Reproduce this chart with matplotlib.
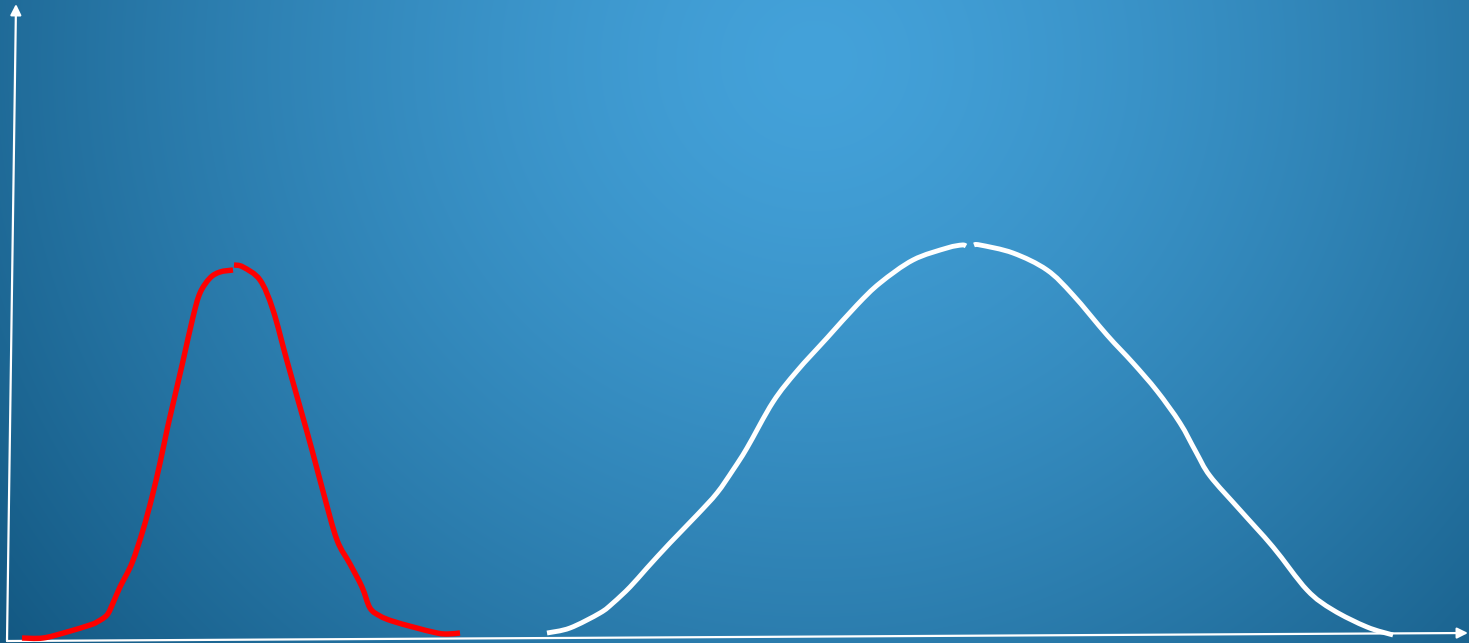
import matplotlib
matplotlib.use("Agg")
import matplotlib.pyplot as plt
import numpy as np
from matplotlib.colors import to_rgb
from matplotlib.path import Path
from matplotlib.patches import PathPatch

# Hand-drawn curves in pixel coordinates (x right, y down)
red_left_x = [22, 43, 67, 90, 97, 107, 113, 120, 132, 143, 152, 160, 167, 173, 183, 193, 200, 210, 220, 233]
red_left_y = [638, 638, 632, 625, 622, 615, 603, 587, 563, 530, 497, 463, 430, 404, 361, 317, 293, 278, 272, 270]
red_right_x = [234, 243, 260, 273, 287, 300, 312, 324, 337, 350, 362, 370, 380, 392, 413, 437, 448, 460]
red_right_y = [265, 267, 280, 310, 361, 407, 450, 495, 540, 564, 587, 608, 616, 621, 627, 633, 634, 633]

white_left_x = [547, 570, 600, 613, 630, 647, 670, 697, 717, 733, 747, 773, 797, 827, 857, 880, 913, 947, 962, 966]
white_left_y = [633, 628, 613, 603, 587, 568, 543, 515, 493, 470, 448, 402, 371, 338, 305, 283, 260, 248, 245, 246]
white_right_x = [974, 980, 1013, 1047, 1073, 1107, 1133, 1157, 1180, 1196, 1210, 1240, 1273, 1307, 1333, 1367, 1393]
white_right_y = [245, 245, 253, 270, 295, 335, 363, 391, 423, 452, 476, 510, 547, 590, 610, 627, 635]

W, H = 1469, 643


def smooth_path(xs, ys):
    # Catmull-Rom through the read points, as cubic Bezier segments
    p = np.column_stack([xs, ys]).astype(float)
    verts = [p[0]]
    codes = [Path.MOVETO]
    for i in range(len(p) - 1):
        p0 = p[i - 1] if i > 0 else p[i]
        p3 = p[i + 2] if i + 2 < len(p) else p[i + 1]
        c1 = p[i] + (p[i + 1] - p0) / 6
        c2 = p[i + 1] - (p3 - p[i]) / 6
        verts += [c1, c2, p[i + 1]]
        codes += [Path.CURVE4] * 3
    return Path(verts, codes)


fig = plt.figure(figsize=(W / 100, H / 100), dpi=100)
ax = fig.add_axes([0, 0, 1, 1])
ax.set_xlim(0, W)
ax.set_ylim(H, 0)
ax.axis("off")

# Radial blue background, lightest near the top centre
yy, xx = np.mgrid[0:H, 0:W]
r = np.sqrt((xx - 815) ** 2 + ((yy - 60) / 0.95) ** 2)
t = (np.clip(r / 1020, 0, 1) ** 1.35)[..., None]
c_in = np.array(to_rgb("#44a2da"))
c_out = np.array(to_rgb("#135882"))
bg = c_in + (c_out - c_in) * t
ax.imshow(bg, extent=(0, W, H, 0), aspect="auto", zorder=0)

# Axes drawn as slightly slanted white arrows
arrow = dict(arrowstyle="-|>", color="white", lw=1.6, mutation_scale=16, shrinkA=0, shrinkB=0)
ax.annotate("", xy=(16, 4), xytext=(7, 641), arrowprops=arrow, zorder=3)
ax.annotate("", xy=(1468, 633), xytext=(7, 641), arrowprops=arrow, zorder=3)

# Curves
for xs, ys in [(red_left_x, red_left_y), (red_right_x, red_right_y)]:
    ax.add_patch(PathPatch(smooth_path(xs, ys), fill=False, edgecolor="#ff0000", lw=3.9,
                           joinstyle="round", capstyle="butt", zorder=4))
for xs, ys in [(white_left_x, white_left_y), (white_right_x, white_right_y)]:
    ax.add_patch(PathPatch(smooth_path(xs, ys), fill=False, edgecolor="white", lw=3.5,
                           joinstyle="round", capstyle="butt", zorder=4))

fig.savefig("out.png", dpi=100)
